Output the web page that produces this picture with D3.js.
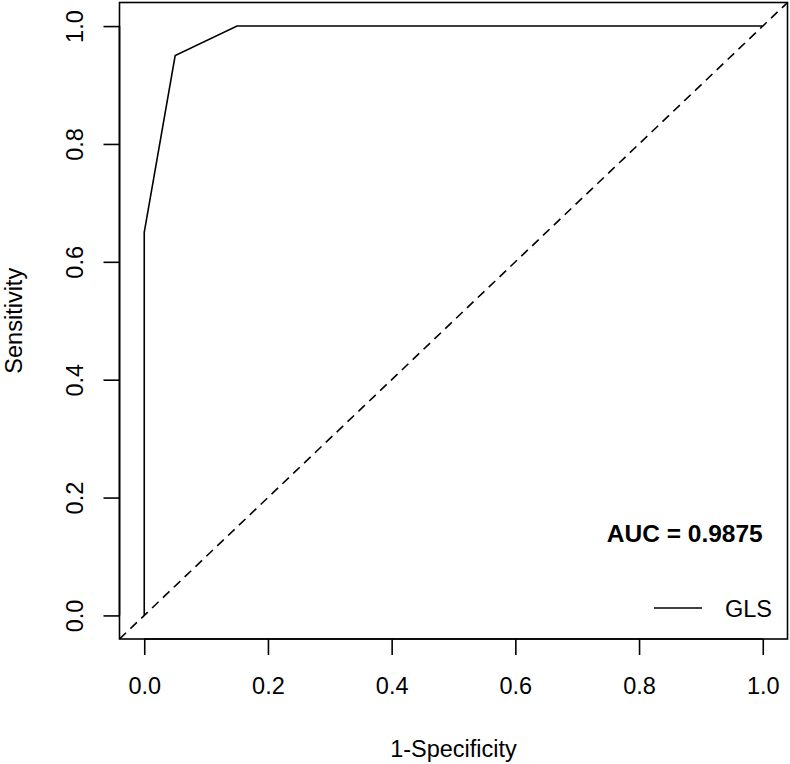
<!DOCTYPE html>
<html><head><meta charset="utf-8">
<script src="https://cdn.jsdelivr.net/npm/d3@7"></script>
<style>body{margin:0;background:#fff}text{font-family:"Liberation Sans",Arial,sans-serif;fill:#000}</style>
</head><body>
<svg id="c" width="790" height="764"></svg>
<script>
const fpr = [0, 0, 0.05, 0.15, 1];
const tpr = [0, 0.65, 0.95, 1, 1];
const ticks = [0, 0.2, 0.4, 0.6, 0.8, 1.0];
const tickLabels = ["0.0", "0.2", "0.4", "0.6", "0.8", "1.0"];
const seriesName = "GLS";
const aucLabel = "AUC = 0.9875";

const svg = d3.select("#c");
const L = 119.5, R = 787.5, T = 2.5, B = 639;
const x = d3.scaleLinear().domain([-0.04, 1.04]).range([L, R]);
const y = d3.scaleLinear().domain([-0.04, 1.04]).range([B, T]);

svg.append("defs").append("clipPath").attr("id", "clip")
  .append("rect").attr("x", L).attr("y", T).attr("width", R - L).attr("height", B - T);

// diagonal reference
svg.append("line").attr("clip-path", "url(#clip)")
  .attr("x1", x(-0.04)).attr("y1", y(-0.04)).attr("x2", x(1.04)).attr("y2", y(1.04))
  .attr("stroke", "#000").attr("stroke-width", 1.6).attr("stroke-dasharray", "9,6");

// ROC curve
const line = d3.line().x((d, i) => x(fpr[i])).y((d, i) => y(tpr[i]));
svg.append("path").datum(fpr).attr("d", line).attr("fill", "none")
  .attr("stroke", "#000").attr("stroke-width", 1.6).attr("clip-path", "url(#clip)");

// box
svg.append("rect").attr("x", L).attr("y", T).attr("width", R - L).attr("height", B - T)
  .attr("fill", "none").attr("stroke", "#000").attr("stroke-width", 1.6);

// x axis
const xa = svg.append("g").attr("transform", `translate(0,${B})`)
  .call(d3.axisBottom(x).tickValues(ticks).tickFormat((d, i) => tickLabels[i]).tickSize(16).tickPadding(22));
xa.select(".domain").attr("d", `M${x(0)},0H${x(1)}`).attr("stroke-width", 1.6);
xa.selectAll(".tick line").attr("stroke-width", 1.6);
xa.selectAll("text").attr("font-size", 23.5).attr("font-family", "Liberation Sans, Arial, sans-serif");

// y axis
const ya = svg.append("g").attr("transform", `translate(${L},0)`)
  .call(d3.axisLeft(y).tickValues(ticks).tickFormat((d, i) => tickLabels[i]).tickSize(16));
ya.select(".domain").attr("d", `M0,${y(0)}V${y(1)}`).attr("stroke-width", 1.6);
ya.selectAll(".tick line").attr("stroke-width", 1.6);
ya.selectAll("text").attr("font-size", 23.5).attr("font-family", "Liberation Sans, Arial, sans-serif")
  .attr("x", null).attr("dy", null)
  .attr("transform", "translate(-37,0) rotate(-90)")
  .attr("text-anchor", "middle").attr("y", 0);

// axis titles
svg.append("text").attr("x", (L + R) / 2).attr("y", 757).attr("text-anchor", "middle")
  .attr("font-size", 23.5).text("1-Specificity");
svg.append("text").attr("transform", `translate(22,${(T + B) / 2}) rotate(-90)`)
  .attr("text-anchor", "middle").attr("font-size", 23.5).text("Sensitivity");

// AUC annotation
svg.append("text").attr("x", x(1)).attr("y", 542).attr("text-anchor", "end")
  .attr("font-size", 24.5).attr("font-weight", "bold").text(aucLabel);

// legend
svg.append("line").attr("x1", 654).attr("x2", 702).attr("y1", 608).attr("y2", 608)
  .attr("stroke", "#000").attr("stroke-width", 1.6);
svg.append("text").attr("x", 725).attr("y", 617).attr("font-size", 23.5).text(seriesName);
</script>
</body></html>
